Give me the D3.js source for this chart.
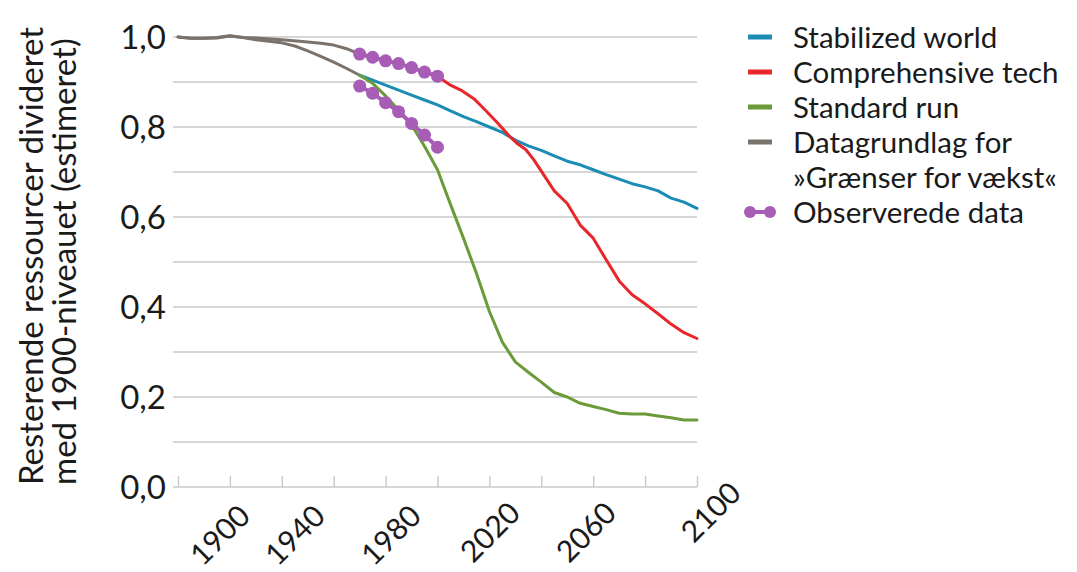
<!DOCTYPE html>
<html>
<head>
<meta charset="utf-8">
<script src="https://cdn.jsdelivr.net/npm/d3@7"></script>
<style>
  html, body { margin: 0; padding: 0; background: #fff; }
  svg { display: block; }
  text { font-family: Lato, "Open Sans", sans-serif; fill: #1a1a1a; }
</style>
</head>
<body>
<svg id="chart" width="1077" height="572"></svg>
<script>
// ---------- DATA ----------
const yTickValues = [0, 0.2, 0.4, 0.6, 0.8, 1.0];
const yTickLabels = ["0,0", "0,2", "0,4", "0,6", "0,8", "1,0"];
const gridValues = [0.1, 0.2, 0.3, 0.4, 0.5, 0.6, 0.7, 0.8, 0.9, 1.0];
const xTickYears = [1900, 1920, 1940, 1960, 1980, 2000, 2020, 2040, 2060, 2080, 2100];
const xLabels = ["1900", "1940", "1980", "2020", "2060", "2100"];
// where the (hand-placed) labels sit, in year units
const xLabelAt = [1928.5, 1957.4, 1994.4, 2032.6, 2069.6, 2117.7];

const seriesNames = ["Stabilized world", "Comprehensive tech", "Standard run", "Datagrundlag for", "Observerede data"];

const stabilizedWorld = [[1970,0.915],[1975,0.904],[1980,0.893],[1985,0.882],[1990,0.871],[1995,0.860],[2000,0.849],[2005,0.836],[2010,0.823],[2015,0.812],[2020,0.800],[2025,0.788],[2030,0.771],[2035,0.758],[2040,0.748],[2045,0.736],[2050,0.724],[2055,0.716],[2060,0.705],[2065,0.694],[2070,0.684],[2075,0.674],[2080,0.667],[2085,0.658],[2090,0.642],[2095,0.633],[2100,0.619]];

const comprehensiveTech = [[2000,0.913],[2005,0.893],[2009,0.882],[2014,0.863],[2018,0.840],[2023,0.810],[2028,0.778],[2031,0.762],[2034,0.750],[2037,0.728],[2040,0.702],[2045,0.658],[2050,0.630],[2055,0.582],[2060,0.553],[2065,0.505],[2070,0.458],[2075,0.427],[2080,0.407],[2085,0.385],[2090,0.362],[2095,0.343],[2100,0.330]];

const standardRun = [[1970,0.915],[1975,0.897],[1980,0.869],[1985,0.838],[1990,0.805],[1995,0.757],[2000,0.705],[2005,0.628],[2010,0.553],[2015,0.475],[2020,0.390],[2025,0.322],[2030,0.278],[2035,0.255],[2040,0.233],[2045,0.210],[2050,0.200],[2055,0.186],[2060,0.179],[2065,0.172],[2070,0.164],[2075,0.162],[2080,0.162],[2085,0.158],[2090,0.154],[2095,0.149],[2100,0.149]];

const historicalUpper = [[1900,1.000],[1905,0.997],[1910,0.997],[1915,0.998],[1920,1.002],[1925,0.999],[1930,0.998],[1940,0.994],[1948,0.990],[1955,0.986],[1960,0.982],[1965,0.974],[1970,0.962]];
const historicalLower = [[1900,1.000],[1905,0.997],[1910,0.997],[1915,0.999],[1920,1.003],[1925,0.999],[1930,0.994],[1940,0.987],[1945,0.980],[1950,0.969],[1955,0.957],[1960,0.944],[1965,0.930],[1970,0.915]];

const observedYears = [1970, 1975, 1980, 1985, 1990, 1995, 2000];
const observedUpper = [0.962, 0.955, 0.947, 0.941, 0.932, 0.922, 0.913];
const observedLower = [0.891, 0.875, 0.854, 0.834, 0.808, 0.782, 0.755];

// ---------- STYLE / LAYOUT ----------
const C = {
  blue: "#1b8db4",
  red: "#e8262b",
  green: "#6a9b38",
  gray: "#7b736b",
  purple: "#a75cb6",
  grid: "#c8c8c8"
};
const xLabelDy = [0, 0, 0, -3, -3, -23];

const svg = d3.select("#chart");
svg.append("rect").attr("width", 1077).attr("height", 572).attr("fill", "#fff");

const x = d3.scaleLinear().domain([1900, 2100]).range([178, 697]);
const y = d3.scaleLinear().domain([0, 1]).range([487, 37]);
const gridX0 = 173, gridX1 = 697;

// grid lines
svg.append("g").selectAll("line").data(gridValues).join("line")
  .attr("x1", gridX0).attr("x2", gridX1)
  .attr("y1", d => y(d)).attr("y2", d => y(d))
  .attr("stroke", C.grid).attr("stroke-width", 1.4);

// x axis baseline + inward ticks
const xAxis = d3.axisTop(x).tickValues(xTickYears).tickSize(11).tickFormat("");
const gx = svg.append("g").attr("transform", `translate(0,${y(0)})`).call(xAxis);
gx.select(".domain").remove();
gx.selectAll(".tick line").attr("stroke", C.grid).attr("stroke-width", 1.4);
svg.append("line").attr("x1", gridX0).attr("x2", gridX1)
  .attr("y1", y(0)).attr("y2", y(0)).attr("stroke", C.grid).attr("stroke-width", 1.6);

// x labels
svg.append("g").selectAll("text").data(xLabels).join("text")
  .attr("text-anchor", "end")
  .attr("font-size", 30)
  .attr("transform", (d, i) => `translate(${x(xLabelAt[i])},${518 + xLabelDy[i]}) rotate(-45)`)
  .text(d => d);

// y labels
svg.append("g").selectAll("text").data(yTickValues).join("text")
  .attr("text-anchor", "end")
  .attr("font-size", 33)
  .attr("x", 166)
  .attr("y", d => y(d) + 12)
  .text((d, i) => yTickLabels[i]);

// y title
const yTitle = svg.append("text").attr("font-size", 33)
  .attr("transform", "translate(0,485) rotate(-90)");
yTitle.append("tspan").attr("x", 0).attr("y", 43).text("Resterende ressourcer divideret");
yTitle.append("tspan").attr("x", 0).attr("y", 76).text("med 1900-niveauet (estimeret)");

// lines
const line = d3.line().x(d => x(d[0])).y(d => y(d[1]));
function drawLine(data, color, w) {
  svg.append("path").datum(data).attr("d", line)
    .attr("fill", "none").attr("stroke", color).attr("stroke-width", w)
    .attr("stroke-linejoin", "round").attr("stroke-linecap", "round");
}
drawLine(historicalUpper, C.gray, 3);
drawLine(historicalLower, C.gray, 3);
drawLine(stabilizedWorld, C.blue, 3);
drawLine(comprehensiveTech, C.red, 3);
drawLine(standardRun, C.green, 3);

// observed
[observedUpper, observedLower].forEach(vals => {
  const pts = observedYears.map((yr, i) => [yr, vals[i]]);
  drawLine(pts, C.purple, 4);
  svg.append("g").selectAll("circle").data(pts).join("circle")
    .attr("cx", d => x(d[0])).attr("cy", d => y(d[1])).attr("r", 6.5)
    .attr("fill", C.purple);
});

// legend
const legendRows = [
  {label: seriesNames[0], color: C.blue, cy: 37},
  {label: seriesNames[1], color: C.red, cy: 72},
  {label: seriesNames[2], color: C.green, cy: 107},
  {label: seriesNames[3], color: C.gray, cy: 142, extra: "»Grænser for vækst«"},
  {label: seriesNames[4], color: C.purple, cy: 212, dots: true}
];
const lg = svg.append("g");
legendRows.forEach(r => {
  lg.append("line").attr("x1", 748).attr("x2", 772).attr("y1", r.cy).attr("y2", r.cy)
    .attr("stroke", r.color).attr("stroke-width", r.dots ? 4 : 5);
  if (r.dots) {
    [750, 770].forEach(cx => lg.append("circle").attr("cx", cx).attr("cy", r.cy).attr("r", 6).attr("fill", r.color));
  }
  lg.append("text").attr("x", 793).attr("y", r.cy + 11).attr("font-size", 29.5).text(r.label);
  if (r.extra) {
    lg.append("text").attr("x", 793).attr("y", r.cy + 35 + 11).attr("font-size", 29.5).text(r.extra);
  }
});
</script>
</body>
</html>
